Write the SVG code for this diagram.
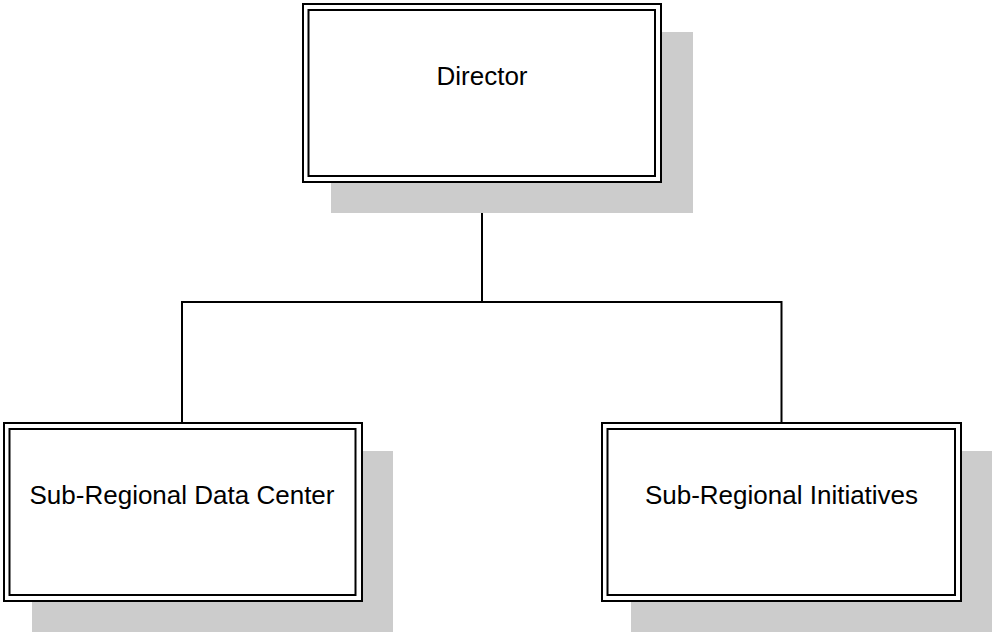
<svg xmlns="http://www.w3.org/2000/svg" width="992" height="633" viewBox="0 0 992 633">
  <style>
    .shadow { fill: #cccccc; stroke: none; }
    .outer { fill: #ffffff; stroke: #000000; stroke-width: 2; }
    .inner { fill: none; stroke: #000000; stroke-width: 2; }
    .label { font-family: "Liberation Sans", Arial, sans-serif; font-size: 26px; fill: #000000; text-anchor: middle; }
    .link { fill: none; stroke: #000000; stroke-width: 2; }
  </style>
  <rect width="992" height="633" fill="#ffffff"/>

  <!-- connectors -->
  <g id="connectors">
    <path class="link" d="M482 182 V302"/>
    <path class="link" d="M182 423 V302 H781.5 V423"/>
  </g>

  <g id="director">
    <rect class="shadow" x="331" y="32" width="362" height="181"/>
    <rect class="outer" x="303" y="4" width="358" height="178"/>
    <rect class="inner" x="308.5" y="10" width="346.5" height="166"/>
    <text class="label" x="482" y="85">Director</text>
  </g>

  <g id="data-center">
    <rect class="shadow" x="32" y="451" width="361" height="181"/>
    <rect class="outer" x="4" y="423" width="358" height="178"/>
    <rect class="inner" x="9.5" y="429" width="346" height="166"/>
    <text class="label" x="182" y="504">Sub-Regional Data Center</text>
  </g>

  <g id="initiatives">
    <rect class="shadow" x="631" y="451" width="361" height="181"/>
    <rect class="outer" x="602" y="423" width="359" height="178"/>
    <rect class="inner" x="607.5" y="429" width="347.5" height="166"/>
    <text class="label" x="781.5" y="504">Sub-Regional Initiatives</text>
  </g>
</svg>
